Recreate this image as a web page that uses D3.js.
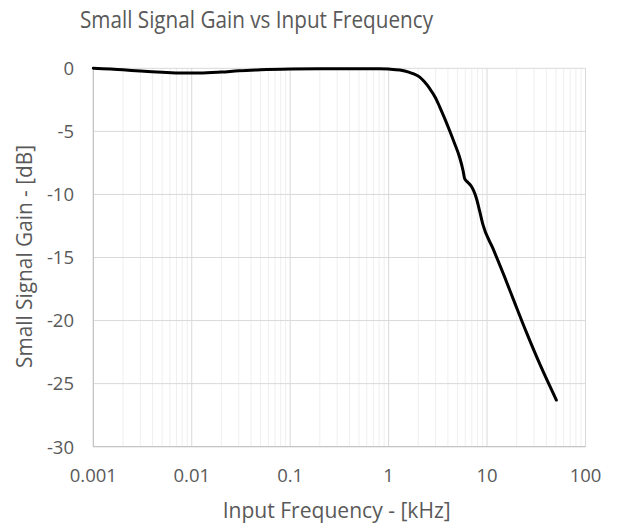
<!DOCTYPE html>
<html><head><meta charset="utf-8">
<script src="https://cdn.jsdelivr.net/npm/d3@7"></script>
<style>body{margin:0;background:#fff}svg{display:block}</style>
</head><body>
<script>
const freqKHz = [0.001, 0.002, 0.003, 0.005, 0.008, 0.012, 0.02, 0.03, 0.05, 0.1, 0.2, 0.5, 0.8, 1.0, 1.3, 1.6, 1.8, 2.07, 2.3, 2.61, 3.0, 3.3, 3.7, 4.17, 4.7, 5.26, 5.7, 5.92, 6.4, 6.92, 7.3, 7.79, 8.4, 9.08, 11.5, 15, 19.1, 25, 35, 50.6];
const gainDB = [0, -0.12, -0.22, -0.32, -0.38, -0.38, -0.3, -0.2, -0.12, -0.06, -0.04, -0.03, -0.03, -0.06, -0.14, -0.3, -0.45, -0.7, -1.05, -1.6, -2.35, -3.05, -3.95, -4.95, -6.0, -7.05, -8.1, -8.75, -9.05, -9.35, -9.7, -10.3, -11.3, -12.4, -14.3, -16.5, -18.6, -20.9, -23.6, -26.3];
const xTicks = [0.001, 0.01, 0.1, 1, 10, 100];
const xTickLabels = ["0.001", "0.01", "0.1", "1", "10", "100"];
const yTicks = [0, -5, -10, -15, -20, -25, -30];
const title = "Small Signal Gain vs Input Frequency";
const xTitle = "Input Frequency - [kHz]";
const yTitle = "Small Signal Gain - [dB]";

const W = 618, H = 529;
const m = {l: 93.3, r: 618 - 585.5, t: 68.3, b: 529 - 446.7};
const font = "'Open Sans', sans-serif";
const svg = d3.select("body").append("svg").attr("width", W).attr("height", H);

const x = d3.scaleLog().domain([0.001, 100]).range([m.l, W - m.r]);
const y = d3.scaleLinear().domain([-30, 0]).range([H - m.b, m.t]);

// minor vertical grid
const minor = [];
for (let d = -3; d < 2; d++) for (let k = 2; k <= 9; k++) minor.push(k * Math.pow(10, d));
svg.append("g").selectAll("line").data(minor).join("line")
  .attr("x1", d => x(d)).attr("x2", d => x(d))
  .attr("y1", y(0)).attr("y2", y(-30))
  .attr("stroke", "#efefef").attr("stroke-width", 1);
// major vertical grid
svg.append("g").selectAll("line").data(xTicks).join("line")
  .attr("x1", d => x(d)).attr("x2", d => x(d))
  .attr("y1", y(0)).attr("y2", y(-30))
  .attr("stroke", "#d9d9d9").attr("stroke-width", 1);
// horizontal grid
svg.append("g").selectAll("line").data(yTicks).join("line")
  .attr("x1", x(0.001)).attr("x2", x(100))
  .attr("y1", d => y(d)).attr("y2", d => y(d))
  .attr("stroke", "#d9d9d9").attr("stroke-width", 1);
// axis lines
svg.append("line").attr("x1", x(0.001)).attr("x2", x(0.001)).attr("y1", y(0)).attr("y2", y(-30)).attr("stroke", "#bfbfbf");
svg.append("line").attr("x1", x(0.001)).attr("x2", x(100)).attr("y1", y(-30)).attr("y2", y(-30)).attr("stroke", "#bfbfbf");

// tick labels
svg.append("g").selectAll("text").data(yTicks).join("text")
  .attr("x", 74).attr("y", d => y(d) + 6.8)
  .attr("text-anchor", "end").attr("font-family", font).attr("font-size", 18.5)
  .attr("fill", "#595959").text(d => d);
svg.append("g").selectAll("text").data(xTicks).join("text")
  .attr("x", d => x(d)).attr("y", 481.5)
  .attr("text-anchor", "middle").attr("font-family", font).attr("font-size", 18.5)
  .attr("fill", "#595959").text((d, i) => xTickLabels[i]);

// line
const line = d3.line().x((d, i) => x(freqKHz[i])).y(d => y(d)).curve(d3.curveMonotoneX);
svg.append("path").datum(gainDB).attr("d", line)
  .attr("fill", "none").attr("stroke", "#000").attr("stroke-width", 3)
  .attr("stroke-linejoin", "round").attr("stroke-linecap", "round");

// titles
svg.append("text").attr("x", 256.5).attr("y", 27.5).attr("text-anchor", "middle")
  .attr("font-family", font).attr("font-size", 23.5).attr("fill", "#595959")
  .attr("textLength", 353).attr("lengthAdjust", "spacingAndGlyphs").text(title);
svg.append("text").attr("x", 336.7).attr("y", 518).attr("text-anchor", "middle")
  .attr("font-family", font).attr("font-size", 21.5).attr("fill", "#595959")
  .attr("textLength", 228).attr("lengthAdjust", "spacingAndGlyphs").text(xTitle);
svg.append("text").attr("transform", "translate(31.5,256.5) rotate(-90)").attr("text-anchor", "middle")
  .attr("font-family", font).attr("font-size", 21.5).attr("fill", "#595959")
  .attr("textLength", 223).attr("lengthAdjust", "spacingAndGlyphs").text(yTitle);
</script>
</body></html>
